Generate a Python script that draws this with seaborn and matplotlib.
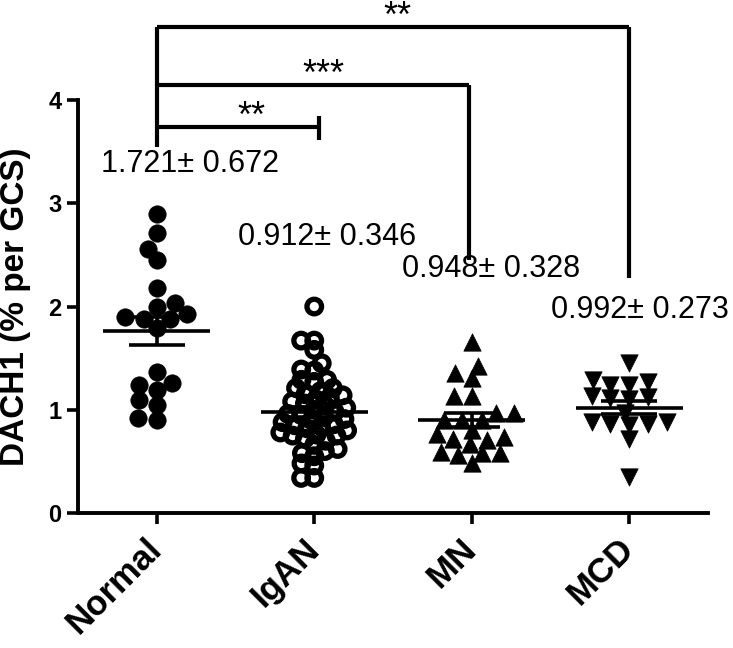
import numpy as np
import pandas as pd
import matplotlib
matplotlib.use("Agg")
import matplotlib.pyplot as plt
import seaborn as sns

GROUPS = ["Normal", "IgAN", "MN", "MCD"]

normal = [2.90, 2.71, 2.56, 2.45, 2.18, 2.03, 2.00, 1.93, 1.88, 1.90,
          1.88, 1.79, 1.37, 1.24, 1.26, 1.19, 1.09, 1.05, 0.90, 0.92]
igan = [2.00, 1.67, 1.67, 1.58, 1.45, 1.39, 1.38, 1.29, 1.29, 1.27,
        1.21, 1.21, 1.18, 1.15, 1.14, 1.12, 1.10, 1.08, 1.06, 1.04,
        1.02, 1.00, 0.98, 0.96, 0.95, 0.93, 0.91, 0.90, 0.88, 0.86,
        0.85, 0.84, 0.82, 0.80, 0.78, 0.76, 0.75, 0.75, 0.72, 0.70,
        0.66, 0.62, 0.60, 0.58, 0.55, 0.48, 0.46, 0.34, 0.34]
mn = [1.66, 1.42, 1.31, 1.36, 1.13, 1.13, 0.97, 0.97, 0.90, 0.90,
      0.90, 0.77, 0.80, 0.72, 0.74, 0.71, 0.67, 0.58, 0.59, 0.58,
      0.56, 0.48]
mcd = [1.45, 1.29, 1.27, 1.24, 1.24, 1.13, 1.11, 1.10, 1.12, 0.97,
       0.88, 0.86, 0.85, 0.88, 0.86, 0.72, 0.35]

MEAN_SD_LABELS = ["1.721\u00b1 0.672", "0.912\u00b1 0.346",
                  "0.948\u00b1 0.328", "0.992\u00b1 0.273"]
COMPARISONS = [("Normal", "IgAN", "**"), ("Normal", "MN", "***"),
               ("Normal", "MCD", "**")]

sns.set_theme(style="ticks")
plt.rcParams["font.family"] = ["Liberation Sans", "DejaVu Sans"]
plt.rcParams.update({"text.color": "black", "axes.labelcolor": "black",
                     "xtick.color": "black", "ytick.color": "black"})

df = pd.DataFrame({
    "group": np.repeat(GROUPS, [len(normal), len(igan), len(mn), len(mcd)]),
    "value": normal + igan + mn + mcd,
})

fig = plt.figure(figsize=(7.33, 6.48), dpi=100)
ax = fig.add_axes([0.1064, 0.2083, 0.8595, 0.6373])

# swarm layout uses its own marker size, drawn size is set afterwards
styles = {
    "Normal": dict(marker="o", layout=13, size=12.5, face="black", lw=0.5),
    "IgAN": dict(marker="o", layout=9, size=10.5, face="none", lw=3.8),
    "MN": dict(marker="^", layout=12.5, size=12.5, face="black", lw=0.5),
    "MCD": dict(marker="v", layout=13, size=12.5, face="black", lw=0.5),
}

swarms = {}
for g in GROUPS:
    st = styles[g]
    n_before = len(ax.collections)
    sns.swarmplot(data=df[df["group"] == g], x="group", y="value", order=GROUPS,
                  marker=st["marker"], size=st["layout"], color="black",
                  linewidth=0, warn_thresh=1, ax=ax)
    swarms[g] = ax.collections[n_before:]

# freeze the swarm positions, then restyle markers
fig.canvas.draw()
for g, colls in swarms.items():
    st = styles[g]
    for coll in colls:
        if "draw" in vars(coll):
            del coll.draw
        coll.set_sizes([st["size"] ** 2])
        coll.set_facecolor(st["face"])
        coll.set_edgecolor("black")
        coll.set_linewidth(st["lw"])

stats = df.groupby("group", sort=False)["value"].agg(["mean", "sem"]).reindex(GROUPS)
xs = np.arange(len(GROUPS))
ax.hlines(stats["mean"], xs - 0.34, xs + 0.34, color="black", lw=2.6, zorder=5)
ax.errorbar(xs, stats["mean"], yerr=stats["sem"], fmt="none", ecolor="black",
            elinewidth=2.6, capsize=20, capthick=2.6, zorder=5)

label_pos = [(0.21, 3.38), (1.08, 2.67), (2.12, 2.36), (3.07, 1.97)]
for (lx, ly), txt in zip(label_pos, MEAN_SD_LABELS):
    ax.text(lx, ly, txt, ha="center", va="center", fontsize=22, clip_on=False)

# significance brackets from Normal
levels = [3.74, 4.15, 4.71]
right_ends = [(1.03, 3.61, 3.85), (1.98, 2.45, None), (3.0, 2.28, None)]
star_x = [0.60, 1.06, 1.53]
kw = dict(color="black", lw=3, clip_on=False, solid_capstyle="butt",
          solid_joinstyle="miter")
ax.plot([0, 0], [3.55, levels[-1]], **kw)
for (a, b, stars), lev, (xr, lo, hi), sx in zip(COMPARISONS, levels, right_ends, star_x):
    ax.plot([0, xr], [lev, lev], **kw)
    ax.plot([xr, xr], [lo, hi if hi is not None else lev], **kw)
    ax.text(sx, lev, stars, ha="center", va="baseline", fontsize=26,
            clip_on=False)

ax.set_xlim(-0.5, 3.5)
ax.set_ylim(0, 4)
ax.set_yticks([0, 1, 2, 3, 4])
ax.set_xlabel("")
ax.set_ylabel("DACH1 (% per GCS)", fontsize=24, fontweight="bold", labelpad=12)
ax.set_xticks(xs)
ax.set_xticklabels(GROUPS, rotation=45, ha="right", va="center",
                   rotation_mode="anchor", fontsize=25, fontweight="bold")
for lab in ax.get_yticklabels():
    lab.set_fontweight("bold")
    lab.set_fontsize(17)
ax.tick_params(axis="both", width=2.6, length=8, color="black", pad=4)
ax.tick_params(axis="x", pad=14)
sns.despine(ax=ax)
for side in ["left", "bottom"]:
    ax.spines[side].set_linewidth(2.8)
    ax.spines[side].set_color("black")

fig.savefig("out.png", dpi=100)
